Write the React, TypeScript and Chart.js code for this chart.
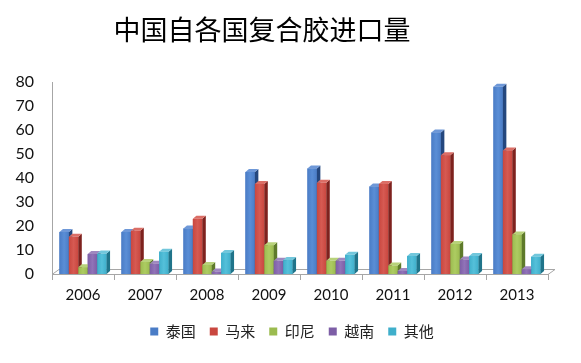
import React, { useEffect, useRef } from "react";
import { Chart, registerables } from "chart.js";

Chart.register(...registerables);

const years = ["2006", "2007", "2008", "2009", "2010", "2011", "2012", "2013"];
const seriesNames = ["泰国", "马来", "印尼", "越南", "其他"];
const thailand = [17.5, 17.5, 19, 42.5, 44, 36.5, 59, 78];
const malaysia = [15.5, 18, 23, 37.5, 38, 37.5, 49.5, 51.5];
const indonesia = [2.8, 5, 3.8, 12, 5.5, 3.5, 12.5, 16.5];
const vietnam = [8.3, 4.3, 1, 5.5, 5.5, 1.3, 6, 2];
const others = [8.5, 9.3, 8.8, 5.8, 8, 7.5, 7.5, 7.2];
const titleText = "中国自各国复合胶进口量";

const frontColors = ["#4A7CC6", "#C9473F", "#9BBB4F", "#7D5EA6", "#3FAFCB"];
const sideColors = ["#24477E", "#7E221E", "#5E7A2A", "#4A3469", "#20748A"];
const topColors = ["#6E98D8", "#DB6E66", "#B8D27A", "#A088C0", "#72C7DC"];
const lightColors = ["#5A8ED6", "#D65A52", "#ADCC62", "#9173B8", "#55C0DA"];

const DX = 3.5;
const DY = 3;
const FLOOR_DX = 7;
const FLOOR_DY = 5;
const LEGEND_SHIFT = 14;

const titlePlugin = {
  id: "customTitle",
  afterLayout(chart: any) {
    const lg = chart.legend;
    if (lg) {
      lg.left += LEGEND_SHIFT;
      lg.right += LEGEND_SHIFT;
    }
  },
  afterDraw(chart: any) {
    const ctx = chart.ctx;
    ctx.save();
    ctx.font = "27px 'Noto Sans CJK SC', sans-serif";
    ctx.fillStyle = "#000";
    ctx.textAlign = "center";
    ctx.textBaseline = "middle";
    ctx.fillText(titleText, 262, 30);
    ctx.restore();
  },
};

const bar3d = {
  id: "bar3d",
  beforeDatasetsDraw(chart: any) {
    const { ctx, chartArea } = chart;
    const { left, right, bottom } = chartArea;
    ctx.save();
    ctx.strokeStyle = "#A6A6A6";
    ctx.lineWidth = 1;
    ctx.beginPath();
    ctx.moveTo(left, bottom + 0.5);
    ctx.lineTo(left + FLOOR_DX, bottom - FLOOR_DY + 0.5);
    ctx.lineTo(right + FLOOR_DX, bottom - FLOOR_DY + 0.5);
    ctx.lineTo(right, bottom + 0.5);
    ctx.stroke();
    ctx.restore();
  },
  afterDatasetsDraw(chart: any) {
    const ctx = chart.ctx;
    const n = chart.data.labels.length;
    ctx.save();
    for (let c = 0; c < n; c++) {
      chart.data.datasets.forEach((_ds: any, i: number) => {
        const meta = chart.getDatasetMeta(i);
        const el = meta.data[c];
        if (!el) return;
        const p = el.getProps(["x", "y", "base", "width"], true);
        const l = p.x - p.width / 2;
        const r = p.x + p.width / 2;
        const top = Math.min(p.y, p.base);
        const base = Math.max(p.y, p.base);
        const g = ctx.createLinearGradient(l, 0, r, 0);
        g.addColorStop(0, frontColors[i]);
        g.addColorStop(0.5, lightColors[i]);
        g.addColorStop(1, frontColors[i]);
        ctx.fillStyle = g;
        ctx.fillRect(l, top, r - l, base - top);
        ctx.fillStyle = sideColors[i];
        ctx.beginPath();
        ctx.moveTo(r, top);
        ctx.lineTo(r + DX, top - DY);
        ctx.lineTo(r + DX, base - DY);
        ctx.lineTo(r, base);
        ctx.closePath();
        ctx.fill();
        ctx.fillStyle = topColors[i];
        ctx.beginPath();
        ctx.moveTo(l, top);
        ctx.lineTo(l + DX, top - DY);
        ctx.lineTo(r + DX, top - DY);
        ctx.lineTo(r, top);
        ctx.closePath();
        ctx.fill();
      });
    }
    ctx.restore();
  },
};

export default function App() {
  const ref = useRef<HTMLCanvasElement>(null);
  useEffect(() => {
    document.body.style.margin = "0";
    const canvas = ref.current;
    if (!canvas) return;
    const data = [thailand, malaysia, indonesia, vietnam, others];
    const chart = new Chart(canvas, {
      type: "bar",
      data: {
        labels: years,
        datasets: seriesNames.map((name, i) => ({
          label: name,
          data: data[i],
          backgroundColor: frontColors[i],
          borderWidth: 0,
          categoryPercentage: 0.76,
          barPercentage: 1,
        })),
      },
      options: {
        responsive: false,
        animation: false,
        devicePixelRatio: 1,
        layout: { padding: { left: 8, right: 33, top: 82, bottom: 14 } },
        plugins: {
          title: { display: false },
          legend: {
            position: "bottom",
            labels: {
              boxWidth: 8,
              boxHeight: 8,
              padding: 14,
              color: "#222",
              font: { family: "'Noto Sans CJK SC', sans-serif", size: 15 },
            },
          },
          tooltip: { enabled: false },
        },
        scales: {
          x: {
            offset: true,
            grid: {
              display: true,
              offset: true,
              drawOnChartArea: false,
              drawTicks: true,
              tickLength: 6,
              color: "#A6A6A6",
            },
            border: { display: true, color: "#A6A6A6" },
            ticks: {
              color: "#111",
              padding: 6,
              font: { family: "Lato, 'Liberation Sans', sans-serif", size: 15 },
            },
          },
          y: {
            min: 0,
            max: 80,
            grid: { display: false },
            border: { display: true, color: "#A6A6A6" },
            afterFit: (scale: any) => {
              scale.width = 44;
            },
            ticks: {
              stepSize: 10,
              padding: 10,
              color: "#111",
              font: { family: "Lato, 'Liberation Sans', sans-serif", size: 16 },
            },
          },
        },
      },
      plugins: [bar3d, titlePlugin],
    });
    return () => chart.destroy();
  }, []);
  return (
    <div style={{ position: "absolute", left: 0, top: 0, width: 581, height: 363, background: "#fff" }}>
      <canvas ref={ref} width={581} height={363} />
    </div>
  );
}
